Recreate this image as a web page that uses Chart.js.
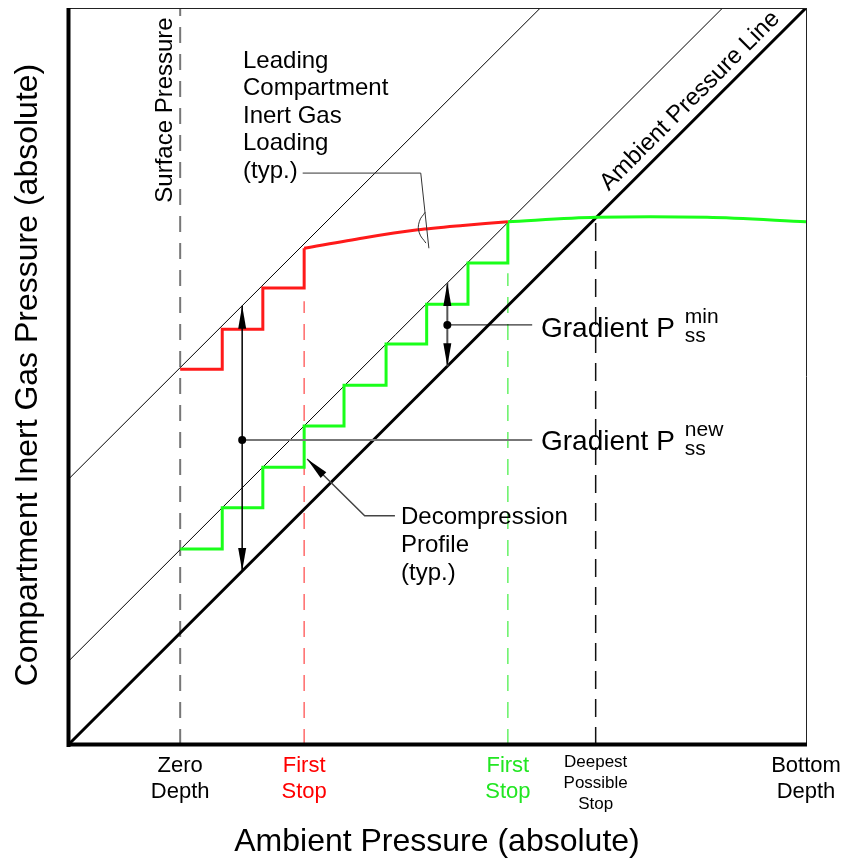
<!DOCTYPE html>
<html>
<head>
<meta charset="utf-8">
<script src="https://cdn.jsdelivr.net/npm/chart.js@4.4.1/dist/chart.umd.min.js"></script>
<style>html,body{margin:0;padding:0;background:#fff}</style>
</head>
<body>
<canvas id="diagram" width="844" height="860"></canvas>
<script>
// everything is in plot units, 0..100 on both axes (ambient line is y = x)
var ambient = [{x:0,y:0},{x:100,y:100}];
var mvalueUpper = [{x:0,y:36},{x:64,y:100}];
var mvalueLower = [{x:0,y:11.3},{x:88.7,y:100}];

var stopX  = [15.2, 20.9, 26.4, 32.0, 37.4, 43.1, 48.6, 54.2, 59.6];
var redY   = [51.0, 56.4, 62.0, 67.4];
var greenY = [26.6, 32.2, 37.7, 43.3, 48.8, 54.4, 59.8, 65.4, 71.0];
var redCurve   = [{x:32.0,y:67.4},{x:40.0,y:68.8},{x:47.4,y:69.9},{x:53.5,y:70.5},{x:59.6,y:71.0}];
var greenCurve = [{x:59.6,y:71.0},{x:71.5,y:71.6},{x:86.6,y:71.6},{x:100,y:71.0}];

var tickX = [15.2, 32.0, 59.6, 71.5, 100];
var tickLabels = [['Zero','Depth'],['First','Stop'],['First','Stop'],['Deepest','Possible','Stop'],['Bottom','Depth']];
var tickColors = ['#000000','#ff0000','#22e622','#000000','#000000'];

var surfaceLine = [{x:15.2,y:0},{x:15.2,y:100}];
var redStopLine = [{x:32.0,y:0},{x:32.0,y:60.2}];
var greenStopLine = [{x:59.6,y:0},{x:59.6,y:64.0}];
var deepestLine = [{x:71.5,y:0},{x:71.5,y:71.6}];

var gradNewArrow  = [{x:23.6,y:59.6},{x:23.6,y:23.6}];
var gradNewDot    = [{x:23.6,y:41.4}];
var gradNewLeader = [{x:23.6,y:41.4},{x:62.9,y:41.4}];
var gradMinArrow  = [{x:51.4,y:62.7},{x:51.4,y:51.4}];
var gradMinDot    = [{x:51.4,y:57.0}];
var gradMinLeader = [{x:51.4,y:57.0},{x:62.9,y:57.0}];

var profileLeader = [{x:44.3,y:31.1},{x:40.2,y:31.1},{x:32.4,y:38.8}];
var loadingLeader = [{x:31.8,y:77.6},{x:47.8,y:77.6},{x:48.9,y:67.4}];
var loadingMark   = [{x:48.4,y:72.3},{x:47.6,y:71.0},{x:47.6,y:69.5},{x:48.5,y:68.1}];

function stairs(xs, ys) {
  var pts = [];
  for (var i = 0; i < ys.length; i++) {
    pts.push({x: xs[i], y: ys[i]});
    if (i < ys.length - 1) pts.push({x: xs[i+1], y: ys[i]});
  }
  return pts;
}

var FONT = '"Liberation Sans", Arial, Helvetica, sans-serif';

function line(data, color, width, extra) {
  var ds = {data: data, showLine: true, borderColor: color, borderWidth: width,
            pointRadius: 0, fill: false, tension: 0};
  for (var k in extra) ds[k] = extra[k];
  return ds;
}

function head(ctx, fx, fy, tx, ty) {
  var ang = Math.atan2(ty - fy, tx - fx), len = 23, hw = 4;
  ctx.save();
  ctx.translate(tx, ty);
  ctx.rotate(ang);
  ctx.beginPath();
  ctx.moveTo(0, 0);
  ctx.lineTo(-len, -hw);
  ctx.lineTo(-len, hw);
  ctx.closePath();
  ctx.fillStyle = '#000';
  ctx.fill();
  ctx.restore();
}

var overlay = {
  id: 'overlay',
  afterDatasetsDraw: function(chart) {
    var ctx = chart.ctx, a = chart.chartArea, xs = chart.scales.x;

    chart.data.datasets.forEach(function(ds, i) {
      if (!ds.arrowEnds) return;
      var pts = chart.getDatasetMeta(i).data;
      ds.arrowEnds.forEach(function(end) {
        var p = end === 'start' ? pts[0] : pts[pts.length-1];
        var q = end === 'start' ? pts[1] : pts[pts.length-2];
        head(ctx, q.x, q.y, p.x, p.y);
      });
    });

    ctx.save();
    // frame
    ctx.strokeStyle = '#222';
    ctx.lineWidth = 1;
    ctx.beginPath();
    ctx.moveTo(a.left, a.top + 0.5); ctx.lineTo(a.right, a.top + 0.5);
    ctx.moveTo(a.right + 0.5, a.top); ctx.lineTo(a.right + 0.5, a.bottom);
    ctx.stroke();
    ctx.strokeStyle = '#000';
    ctx.lineWidth = 4;
    ctx.beginPath();
    ctx.moveTo(a.left + 0.5, a.top); ctx.lineTo(a.left + 0.5, a.bottom + 2);
    ctx.moveTo(a.left - 1.5, a.bottom - 0.5); ctx.lineTo(a.right + 1, a.bottom - 0.5);
    ctx.stroke();

    // tick labels
    ctx.textAlign = 'center';
    ctx.textBaseline = 'middle';
    tickX.forEach(function(v, i) {
      var px = xs.getPixelForValue(v);
      var lines = tickLabels[i];
      var small = lines.length > 2;
      ctx.font = (small ? 17 : 22) + 'px ' + FONT;
      ctx.fillStyle = tickColors[i];
      lines.forEach(function(t, j) {
        ctx.fillText(t, px, (small ? 762 : 766) + j * (small ? 21 : 26));
      });
    });

    // axis titles
    ctx.fillStyle = '#000';
    ctx.font = '32px ' + FONT;
    ctx.fillText('Ambient Pressure (absolute)', 437, 842);
    ctx.save();
    ctx.translate(28, 375);
    ctx.rotate(-Math.PI / 2);
    ctx.fillText('Compartment Inert Gas Pressure (absolute)', 0, 0);
    ctx.restore();

    // rotated labels
    ctx.font = '24px ' + FONT;
    ctx.save();
    ctx.translate(165, 110);
    ctx.rotate(-Math.PI / 2);
    ctx.fillText('Surface Pressure', 0, 0);
    ctx.restore();
    ctx.save();
    ctx.translate(690, 101);
    ctx.rotate(-Math.atan2(a.bottom - a.top, a.right - a.left));
    ctx.fillText('Ambient Pressure Line', 0, 0);
    ctx.restore();

    // callout texts
    ctx.textAlign = 'left';
    ctx.font = '24px ' + FONT;
    ['Leading','Compartment','Inert Gas','Loading','(typ.)'].forEach(function(t, j) {
      ctx.fillText(t, 243, 61 + j * 27.6);
    });
    ['Decompression','Profile','(typ.)'].forEach(function(t, j) {
      ctx.fillText(t, 401, 517 + j * 28);
    });

    ctx.textBaseline = 'alphabetic';
    [['min', 337], ['new', 450]].forEach(function(g) {
      ctx.font = '28px ' + FONT;
      ctx.fillText('Gradient P', 541, g[1]);
      var sx = 541 + ctx.measureText('Gradient P').width + 10;
      ctx.font = '21px ' + FONT;
      ctx.fillText(g[0], sx, g[1] - 14);
      ctx.fillText('ss', sx, g[1] + 5);
    });
    ctx.restore();
  }
};

new Chart(document.getElementById('diagram'), {
  type: 'scatter',
  data: {
    datasets: [
      {data: gradNewDot, pointRadius: 4, pointBackgroundColor: '#000', pointBorderWidth: 0, showLine: false},
      {data: gradMinDot, pointRadius: 4, pointBackgroundColor: '#000', pointBorderWidth: 0, showLine: false},
      line(gradNewArrow, '#000', 1.5, {arrowEnds: ['start','end']}),
      line(gradMinArrow, '#555', 2, {arrowEnds: ['start','end']}),
      line(gradNewLeader, '#777', 2),
      line(gradMinLeader, '#000', 1),
      line(profileLeader, '#444', 1.5, {arrowEnds: ['end']}),
      line(loadingLeader, '#333', 1),
      line(loadingMark, '#333', 1, {tension: 0.45}),
      line(stairs(stopX.slice(0, 4), redY), '#ff1a1a', 3),
      line(redCurve, '#ff1a1a', 3, {tension: 0.3}),
      line(stairs(stopX, greenY), '#1aff1a', 3),
      line(greenCurve, '#1aff1a', 3, {tension: 0.3}),
      line(ambient, '#000', 3),
      line(mvalueUpper, '#000', 1),
      line(mvalueLower, '#000', 1),
      line(surfaceLine, '#777', 2, {borderDash: [16, 11]}),
      line(redStopLine, '#ff6a6a', 1.5, {borderDash: [16, 11]}),
      line(greenStopLine, '#66f266', 1.5, {borderDash: [16, 11]}),
      line(deepestLine, '#111', 1.5, {borderDash: [18, 10]})
    ]
  },
  options: {
    responsive: false,
    animation: false,
    events: [],
    layout: {padding: {left: 68, top: 8, right: 38, bottom: 115}},
    scales: {
      x: {type: 'linear', min: 0, max: 100, display: false},
      y: {type: 'linear', min: 0, max: 100, display: false}
    },
    plugins: {legend: {display: false}, tooltip: {enabled: false}}
  },
  plugins: [overlay]
});
</script>
</body>
</html>
